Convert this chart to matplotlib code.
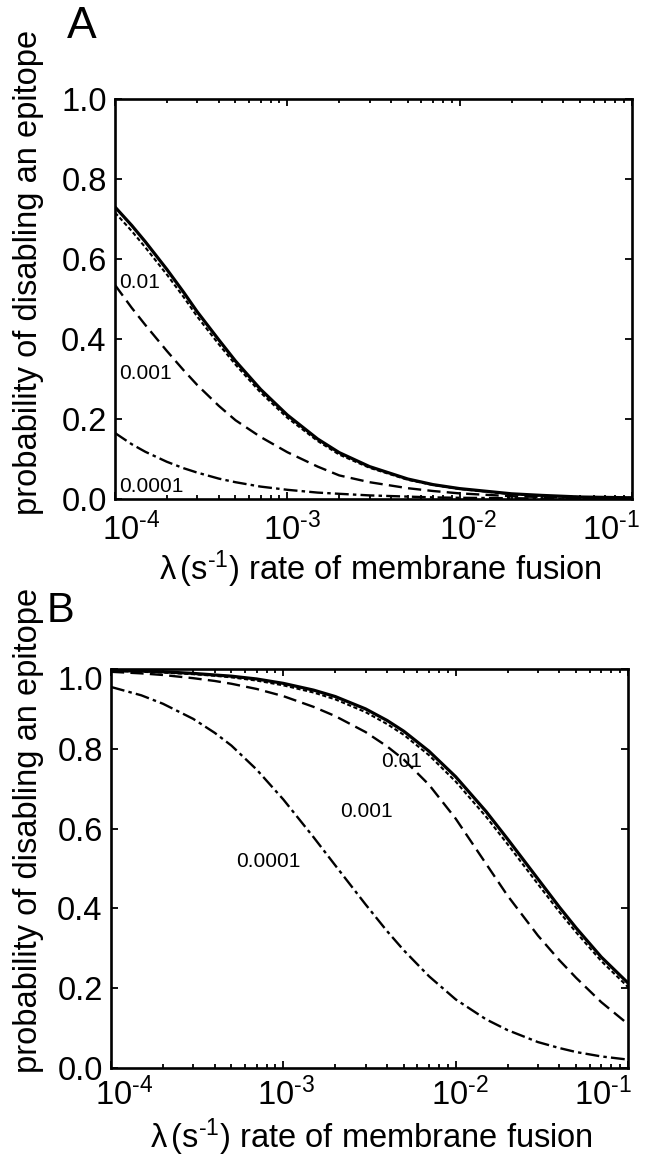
import matplotlib
matplotlib.use("Agg")
import matplotlib.pyplot as plt
from matplotlib.ticker import FixedLocator, FixedFormatter, LogLocator, NullFormatter
from matplotlib.transforms import ScaledTranslation

plt.rcParams["font.family"] = ["Liberation Sans", "DejaVu Sans"]
plt.rcParams["mathtext.fontset"] = "custom"
plt.rcParams["mathtext.rm"] = "Liberation Sans"
plt.rcParams["mathtext.it"] = "Liberation Sans:italic"
plt.rcParams["mathtext.default"] = "regular"
plt.rcParams["lines.scale_dashes"] = False

# ── data ─────────────────────────────────────────────────────────────────
lam_a = [1e-4, 1.25e-4, 1.5e-4, 2e-4, 2.5e-4, 3e-4, 4e-4, 5e-4, 7e-4, 1e-3,
         1.5e-3, 2e-3, 3e-3, 5e-3, 7e-3, 1e-2, 2e-2, 3e-2, 5e-2, 1e-1]
a_inf = [0.730, 0.684, 0.643, 0.574, 0.517, 0.468, 0.398, 0.345, 0.274, 0.210,
         0.150, 0.116, 0.081, 0.050, 0.036, 0.026, 0.013, 0.009, 0.005, 0.003]
a_001 = [0.716, 0.670, 0.629, 0.561, 0.505, 0.456, 0.387, 0.336, 0.266, 0.203,
         0.145, 0.111, 0.078, 0.048, 0.035, 0.025, 0.012, 0.008, 0.005, 0.003]
a_0001 = [0.535, 0.478, 0.435, 0.370, 0.322, 0.285, 0.233, 0.197, 0.155, 0.117,
          0.081, 0.059, 0.042, 0.027, 0.020, 0.014, 0.007, 0.005, 0.003, 0.002]
a_00001 = [0.165, 0.137, 0.118, 0.093, 0.077, 0.066, 0.051, 0.042, 0.031, 0.023,
           0.016, 0.013, 0.009, 0.006, 0.004, 0.003, 0.002, 0.001, 0.001, 0.001]

lam_b = [1e-4, 1.5e-4, 2e-4, 3e-4, 4e-4, 5e-4, 7e-4, 1e-3, 1.5e-3, 2e-3, 3e-3,
         4e-3, 5e-3, 7e-3, 1e-2, 1.5e-2, 2e-2, 3e-2, 4e-2, 5e-2, 7e-2, 1e-1]
b_inf = [0.996, 0.995, 0.993, 0.989, 0.985, 0.982, 0.975, 0.964, 0.947, 0.931,
         0.900, 0.871, 0.844, 0.794, 0.730, 0.643, 0.574, 0.474, 0.403, 0.351,
         0.278, 0.213]
b_001 = [0.995, 0.993, 0.991, 0.987, 0.983, 0.979, 0.971, 0.959, 0.941, 0.924,
         0.892, 0.862, 0.835, 0.784, 0.718, 0.630, 0.561, 0.461, 0.391, 0.340,
         0.268, 0.203]
b_0001 = [0.993, 0.989, 0.985, 0.977, 0.970, 0.963, 0.950, 0.932, 0.905, 0.882,
          0.842, 0.806, 0.773, 0.710, 0.625, 0.512, 0.432, 0.332, 0.270, 0.226,
          0.165, 0.110]
b_00001 = [0.955, 0.934, 0.913, 0.875, 0.840, 0.808, 0.748, 0.673, 0.578, 0.508,
           0.410, 0.343, 0.295, 0.230, 0.172, 0.122, 0.095, 0.065, 0.050, 0.040,
           0.029, 0.021]

curve_labels = ["0.01", "0.001", "0.0001"]
xticks = [1e-4, 1e-3, 1e-2, 1e-1]
xtick_labels = [r"$10^{\text{-4}}$", r"$10^{\text{-3}}$", r"$10^{\text{-2}}$", r"$10^{\text{-1}}$"]
yticks = [0.0, 0.2, 0.4, 0.6, 0.8, 1.0]
ytick_labels = ["0.0", "0.2", "0.4", "0.6", "0.8", "1.0"]

STYLES = [
    dict(color="black", lw=2.3, ls="-"),
    dict(color="black", lw=1.5, ls=(0, (3, 1.8))),
    dict(color="black", lw=1.7, ls=(0, (9.5, 4.5))),
    dict(color="black", lw=1.7, ls=(0, (10, 3, 2.5, 3))),
]

fig = plt.figure(figsize=(6.5, 11.57), dpi=100)
W, H = 650, 1157


def px_axes(left, top, right, bottom):
    return fig.add_axes([left / W, 1 - bottom / H, (right - left) / W, (bottom - top) / H])


def style_axes(ax, xoffs, xpad, yoff_top=0):
    ax.set_xscale("log")
    ax.set_xlim(1e-4, 1e-1)
    ax.set_ylim(0, 1.0)
    ax.xaxis.set_major_locator(FixedLocator(xticks))
    ax.xaxis.set_major_formatter(FixedFormatter(xtick_labels))
    ax.xaxis.set_minor_locator(LogLocator(base=10, subs=range(2, 10)))
    ax.xaxis.set_minor_formatter(NullFormatter())
    ax.yaxis.set_major_locator(FixedLocator(yticks))
    ax.yaxis.set_major_formatter(FixedFormatter(ytick_labels))
    for s in ax.spines.values():
        s.set_linewidth(1.9)
    ax.tick_params(which="both", direction="in", top=True, right=True, width=1.3)
    ax.tick_params(which="major", length=5, labelsize=23.5)
    ax.tick_params(which="minor", length=3)
    ax.tick_params(axis="x", which="major", pad=xpad)
    ax.tick_params(axis="y", which="major", pad=6)
    for lab, dx in zip(ax.get_xticklabels(), xoffs):
        lab.set_transform(lab.get_transform() + ScaledTranslation(dx / 100, 0, fig.dpi_scale_trans))
    if yoff_top:
        lab = ax.get_yticklabels()[-1]
        lab.set_transform(lab.get_transform() + ScaledTranslation(0, -yoff_top / 100, fig.dpi_scale_trans))


# ── Panel A ───────────────────────────────────────────────────────────────
axA = px_axes(115, 99, 632, 499)
for ys, st in zip([a_inf, a_001, a_0001, a_00001], STYLES):
    axA.plot(lam_a, ys, **st)
style_axes(axA, [16, 5, 8, -21], 10)
for txt, yv in zip(curve_labels, [0.54, 0.314, 0.031]):
    axA.text(1.05e-4, yv, txt, fontsize=15, ha="left", va="center")

# ── Panel B ───────────────────────────────────────────────────────────────
axB = px_axes(111, 669, 628, 1068)
for ys, st in zip([b_inf, b_001, b_0001, b_00001], STYLES):
    axB.plot(lam_b, ys, **st)
style_axes(axB, [13, 3, 4, -25], 7, yoff_top=9)
for txt, xv, yv in zip(curve_labels, [3.68e-3, 2.14e-3, 5.34e-4], [0.767, 0.642, 0.517]):
    axB.text(xv, yv, txt, fontsize=15, ha="left", va="center")

# ── labels ────────────────────────────────────────────────────────────────
xlab = r"$\lambda\,(\mathrm{s}^{\text{-1}})$ rate of membrane fusion"
ylab = "probability of disabling an epitope"
fig.text(380 / W, 1 - 569 / H, xlab, fontsize=23.5, ha="center", va="center")
fig.text(371 / W, 1 - 1137 / H, xlab, fontsize=23.5, ha="center", va="center")
fig.text(29 / W, 1 - 272 / H, ylab, fontsize=23.5, rotation=90, ha="center", va="center")
fig.text(29 / W, 1 - 830 / H, ylab, fontsize=23.5, rotation=90, ha="center", va="center")
fig.text(82 / W, 1 - 27 / H, "A", fontsize=32, ha="center", va="center")
fig.text(61 / W, 1 - 611 / H, "B", fontsize=30, ha="center", va="center")

fig.savefig("out.png", dpi=100)
